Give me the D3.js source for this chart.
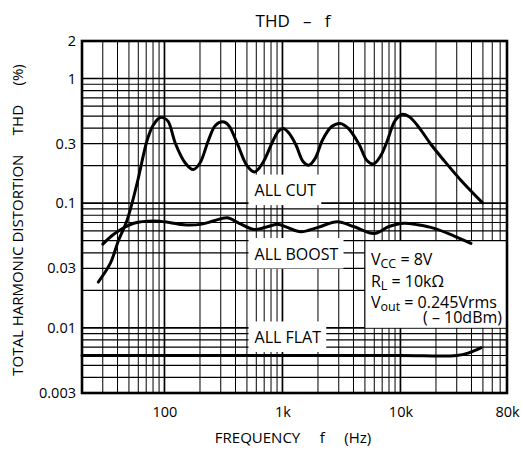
<!DOCTYPE html>
<html><head><meta charset="utf-8">
<script src="https://cdn.jsdelivr.net/npm/d3@7"></script>
<style>
html,body{margin:0;padding:0;background:#fff;}
svg{display:block;font-family:"Open Sans","Noto Sans",sans-serif;}
text{white-space:pre;}
</style></head>
<body><svg id="c" width="522" height="450"></svg>
<script>
// ---- data ----
const cutFreq = [27.5,34.8,40.9,48.2,58.6,71.3,80,92,100,108,124,150,175,200,236,270,312,350,416,500,580,680,836,930,1017,1120,1293,1500,1677,1900,2180,2600,3076,3600,4457,5200,5906,6800,7764,9000,10400,12000,14500,18100,23300,32500,49700];
const cutTHD  = [0.0233,0.033,0.0506,0.073,0.144,0.32,0.42,0.487,0.48,0.45,0.30,0.21,0.186,0.21,0.32,0.42,0.449,0.42,0.297,0.2,0.178,0.21,0.32,0.38,0.397,0.37,0.297,0.215,0.202,0.23,0.32,0.41,0.436,0.40,0.297,0.22,0.206,0.24,0.32,0.46,0.517,0.49,0.40,0.297,0.221,0.153,0.1006];
const boostFreq = [30,36,42,55,81,110,146,202,260,340,430,572,720,904,1100,1426,2000,2920,4000,5980,8000,10700,14000,19300,28000,39600];
const boostTHD  = [0.047,0.055,0.061,0.069,0.072,0.070,0.067,0.0676,0.072,0.0764,0.069,0.0616,0.064,0.0676,0.064,0.059,0.064,0.071,0.065,0.0572,0.065,0.069,0.067,0.0628,0.055,0.0476];
const flatFreq = [20,1000,10000,30000,38000,48000];
const flatTHD  = [0.006,0.006,0.006,0.006,0.0063,0.0069];
const xTickValues = [100,1000,10000,80000];
const xTickLabels = ["100","1k","10k","80k"];
const yTickValues = [2,1,0.3,0.1,0.03,0.01,0.003];
const yTickLabels = ["2","1","0.3","0.1","0.03","0.01","0.003"];
const seriesLabels = ["ALL CUT","ALL BOOST","ALL FLAT"];
const labelAnchorF = [580,580,580];
const labelAnchorV = [0.1261,0.0391,0.00837];

// ---- layout ----
const svg = d3.select("#c");
const L=82, R=507, T=41, B=393;
const x = d3.scaleLog().domain([20,80000]).range([L,R]);
const y = d3.scaleLog().domain([0.003,2]).range([B,T]);

const vGrid=[]; [10,100,1000,10000].forEach(d=>{for(let k=1;k<10;k++){const v=d*k; if(v>20&&v<80000) vGrid.push(v);}});
const hGrid=[]; [0.001,0.01,0.1].forEach(d=>{for(let k=1;k<10;k++){const v=+(d*k).toPrecision(3); if(v>0.003&&v<=1) hGrid.push(v);}}); hGrid.push(1);
const isDec = v => Math.abs(Math.log10(v)-Math.round(Math.log10(v)))<1e-9;

const g = svg.append("g");
g.selectAll(".vg").data(vGrid).join("line")
  .attr("x1",d=>x(d)).attr("x2",d=>x(d)).attr("y1",T).attr("y2",B)
  .attr("stroke","#000").attr("stroke-width",d=>isDec(d)?1.7:1);
g.selectAll(".hg").data(hGrid).join("line")
  .attr("x1",L).attr("x2",R).attr("y1",d=>y(d)).attr("y2",d=>y(d))
  .attr("stroke","#000").attr("stroke-width",d=>isDec(d)?1.7:1.2);

// legend white box (covers grid)
g.append("rect").attr("x",x(5000)).attr("y",y(0.05)).attr("width",R-x(5000)).attr("height",y(0.01)-y(0.05)).attr("fill","#fff");
g.append("line").attr("x1",x(5000)).attr("x2",x(5000)).attr("y1",y(0.05)).attr("y2",y(0.01)).attr("stroke","#000").attr("stroke-width",1);
g.append("line").attr("x1",x(5000)).attr("x2",R).attr("y1",y(0.05)).attr("y2",y(0.05)).attr("stroke","#000").attr("stroke-width",1.2);

// series labels with white boxes
const fs=16;
seriesLabels.forEach((s,i)=>{
  const cx=x(labelAnchorF[i]), cy=y(labelAnchorV[i]);
  const t = svg.append("text").attr("x",cx).attr("y",cy+5.7).attr("font-size",fs).attr("fill","#000").text(s);
  const bb = t.node().getBBox();
  svg.insert("rect","text").attr("x",bb.x-6).attr("y",cy-16).attr("width",bb.width+11).attr("height",30.5).attr("fill","#fff");
});

// curves
const line = d3.line().x(d=>x(d[0])).y(d=>y(d[1])).curve(d3.curveCatmullRom.alpha(0.5));
const series = [[cutFreq,cutTHD],[boostFreq,boostTHD],[flatFreq,flatTHD]];
series.forEach(([f,v])=>{
  svg.append("path").datum(f.map((d,i)=>[d,v[i]])).attr("d",line)
    .attr("fill","none").attr("stroke","#000").attr("stroke-width",3).attr("stroke-linecap","round");
});

// frame
svg.append("rect").attr("x",L).attr("y",T).attr("width",R-L).attr("height",B-T)
  .attr("fill","none").attr("stroke","#000").attr("stroke-width",2.6);

// axes (labels)
const xAxis = d3.axisBottom(x).tickValues(xTickValues).tickFormat((d,i)=>xTickLabels[i]).tickSize(0).tickPadding(14);
const xa = svg.append("g").attr("transform",`translate(0,${B})`).call(xAxis);
xa.select(".domain").remove();
xa.selectAll("text").attr("font-size",14.5).attr("fill","#000").attr("font-family","Open Sans");
const yAxis = d3.axisLeft(y).tickValues(yTickValues).tickFormat((d,i)=>yTickLabels[i]).tickSize(0).tickPadding(6);
const ya = svg.append("g").attr("transform",`translate(${L},0)`).call(yAxis);
ya.select(".domain").remove();
ya.selectAll("text").attr("font-size",14.5).attr("fill","#000").attr("font-family","Open Sans");

// titles
svg.append("text").attr("x",293).attr("y",27).attr("text-anchor","middle").attr("font-size",17).text("THD   –   f");
svg.append("text").attr("x",293).attr("y",443).attr("text-anchor","middle").attr("font-size",15).text("FREQUENCY     f     (Hz)");
svg.append("text").attr("transform","translate(23,220) rotate(-90)").attr("text-anchor","middle").attr("font-size",15)
  .text("TOTAL HARMONIC DISTORTION     THD     (%)");

// legend text
const lx = x(5000)+6;
const lg = svg.append("g").attr("font-size",16).attr("fill","#000");
const t1 = lg.append("text").attr("x",lx).attr("y",265);
t1.append("tspan").text("V"); t1.append("tspan").attr("font-size",12.5).attr("dy",3).text("CC"); t1.append("tspan").attr("dy",-3).text(" = 8V");
const t2 = lg.append("text").attr("x",lx).attr("y",287);
t2.append("tspan").text("R"); t2.append("tspan").attr("font-size",12.5).attr("dy",3).text("L"); t2.append("tspan").attr("dy",-3).text(" = 10kΩ");
const t3 = lg.append("text").attr("x",lx).attr("y",308);
t3.append("tspan").text("V"); t3.append("tspan").attr("font-size",12.5).attr("dy",3).text("out"); t3.append("tspan").attr("dy",-3).text(" = 0.245Vrms");
lg.append("text").attr("x",R-5).attr("y",323).attr("text-anchor","end").text("( – 10dBm)");
</script></body></html>
